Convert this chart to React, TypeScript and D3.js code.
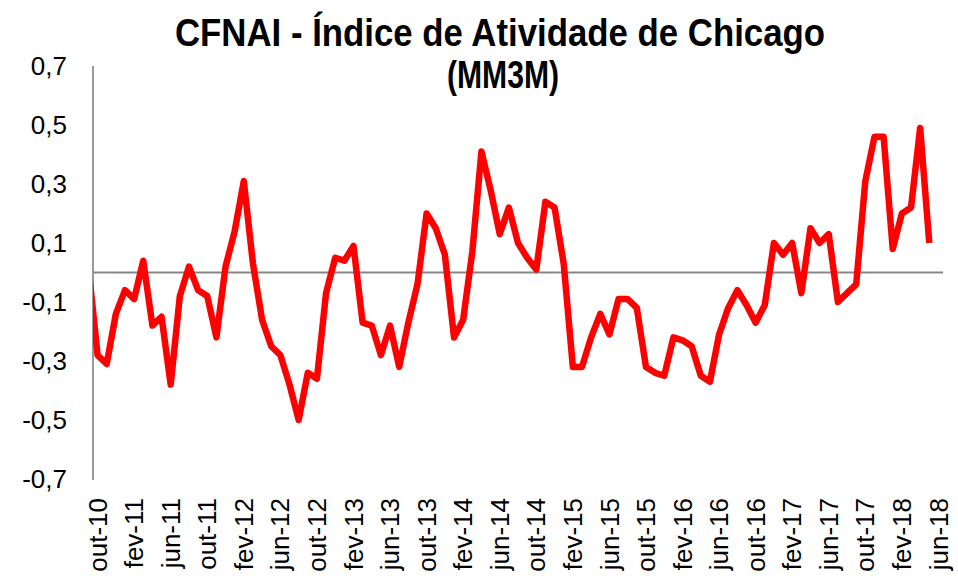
import React from "react";
import * as d3 from "d3";

const width = 958;
const height = 581;
const plotLeft = 93;
const plotRight = 943;
const plotTop = 66;
const plotBottom = 479;

const titulo = ["CFNAI - Índice de Atividade  de Chicago", "(MM3M)"];

const nomesMeses = ["jan", "fev", "mar", "abr", "mai", "jun", "jul", "ago", "set", "out", "nov", "dez"];

// categorias do eixo: out-10 ... jun-18
const categorias: string[] = [];
for (let ano = 2010, mes = 9; ano < 2018 || mes <= 5; mes++) {
  if (mes === 12) { mes = 0; ano++; }
  categorias.push(nomesMeses[mes] + "-" + String(ano).slice(2));
}

// set-10, antes do inicio do eixo (cortado pela area do grafico)
const valorAnterior = 0.02;

// CFNAI media movel de 3 meses, out-10 a mai-18
const cfnaiMM3M = [
  -0.28, -0.31, -0.14, -0.06, -0.09, 0.04, -0.18, -0.15, -0.38, -0.08,
  0.02, -0.06, -0.08, -0.22, 0.02, 0.14, 0.31, 0.03, -0.16, -0.25,
  -0.28, -0.38, -0.5, -0.34, -0.36, -0.07, 0.05, 0.04, 0.09, -0.17,
  -0.18, -0.28, -0.18, -0.32, -0.17, -0.04, 0.2, 0.15, 0.06, -0.22,
  -0.16, 0.07, 0.41, 0.28, 0.13, 0.22, 0.1, 0.05, 0.01, 0.24,
  0.22, 0.03, -0.32, -0.32, -0.22, -0.14, -0.21, -0.09, -0.09, -0.12,
  -0.32, -0.34, -0.35, -0.22, -0.23, -0.25, -0.35, -0.37, -0.21, -0.12,
  -0.06, -0.11, -0.17, -0.11, 0.1, 0.06, 0.1, -0.07, 0.15, 0.1,
  0.13, -0.1, -0.07, -0.04, 0.31, 0.46, 0.46, 0.08, 0.2, 0.22,
  0.49, 0.1,
];

const yTicks = [-0.7, -0.5, -0.3, -0.1, 0.1, 0.3, 0.5, 0.7];

const App = () => {
  const x = d3
    .scaleLinear()
    .domain([-0.5, categorias.length - 0.5])
    .range([plotLeft, plotRight]);
  const y = d3.scaleLinear().domain([-0.7, 0.7]).range([plotBottom, plotTop]);

  const pontos: [number, number][] = [[-1, valorAnterior], ...cfnaiMM3M.map((v, i) => [i, v] as [number, number])];
  const linha = d3
    .line<[number, number]>()
    .x(d => x(d[0]))
    .y(d => y(d[1]));

  const fmt = (v: number) => d3.format(".1f")(v).replace(".", ",").replace("−", "-");

  return (
    <svg
      width={width}
      height={height}
      style={{ position: "absolute", left: 0, top: 0, background: "#fff" }}
      fontFamily="'Liberation Sans', Arial, sans-serif"
    >
      <defs>
        <clipPath id="area">
          <rect x={plotLeft} y={0} width={plotRight - plotLeft} height={height} />
        </clipPath>
      </defs>

      <text x={500} y={46} textAnchor="middle" fontSize={38} fontWeight="bold" textLength={650} lengthAdjust="spacingAndGlyphs">
        {titulo[0]}
      </text>
      <text x={503} y={88} textAnchor="middle" fontSize={38} fontWeight="bold" textLength={112} lengthAdjust="spacingAndGlyphs">
        {titulo[1]}
      </text>

      {yTicks.map(t => (
        <text key={t} x={67} y={y(t)} dy="0.35em" textAnchor="end" fontSize={26} fill="#000">
          {fmt(t)}
        </text>
      ))}

      <line x1={plotLeft} x2={plotLeft} y1={y(0.7)} y2={y(-0.7) + 1} stroke="#999" strokeWidth={2} />
      <line x1={plotLeft} x2={plotRight} y1={y(0)} y2={y(0)} stroke="#878787" strokeWidth={2} />

      <path d={linha(pontos) || ""} fill="none" stroke="#ff0000" strokeWidth={6.5} strokeLinejoin="round" clipPath="url(#area)" />

      {categorias.map((c, i) =>
        i % 4 === 0 ? (
          <text
            key={c}
            transform={`translate(${x(i)},498) rotate(-90)`}
            dy="0.35em"
            textAnchor="end"
            fontSize={26}
            fill="#000"
          >
            {c}
          </text>
        ) : null
      )}
    </svg>
  );
};

export default App;
